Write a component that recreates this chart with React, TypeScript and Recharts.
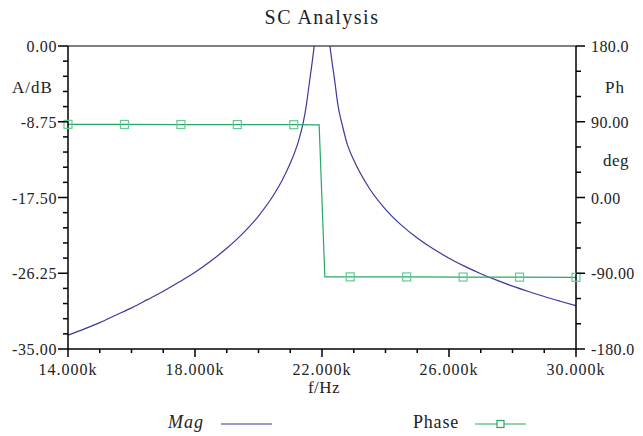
import React from 'react';
import { LineChart, Line, XAxis, YAxis, ReferenceLine, Legend } from 'recharts';

const SERIF = "'Liberation Serif', 'Times New Roman', serif";
const MAG_COLOR = '#3a3a9c';
const PHASE_COLOR = '#27a862';
const MARKER_COLOR = '#63c992';

// Mag curve (dB)
const magFreq = [
  14000, 14500, 15000, 15500, 16000, 16500, 17000, 17500, 18000, 18500, 19000, 19500,
  20000, 20500, 20750, 21000, 21250, 21400, 21500, 21600, 21700, 21800, 21900, 22000,
  22100, 22200, 22300, 22400, 22500, 22650, 22800, 23000, 23500, 24000, 24500, 25000,
  25500, 26000, 26500, 27000, 27500, 28000, 28500, 29000, 29500, 30000,
];
const magDb = [
  -33.4, -32.7, -31.95, -31.1, -30.25, -29.3, -28.33, -27.27, -26.14, -24.83, -23.37, -21.68,
  -19.64, -17.07, -15.47, -13.55, -11.1, -9.0, -7.0, -4.3, -1.6, 1.5, 6, 10,
  6, 1.6, -1.4, -4.0, -6.8, -9.3, -11.4, -13.17, -16.49, -18.86, -20.69, -22.18,
  -23.43, -24.51, -25.46, -26.3, -27.05, -27.74, -28.36, -28.94, -29.48, -30.0,
];

// Phase (deg), with square markers at ten evenly spaced points
const phaseFreq = [14000, 15778, 17556, 19333, 21111, 21910, 22090, 22889, 24667, 26444, 28222, 30000];
const phaseDeg = [86.9, 86.8, 86.7, 86.6, 86.5, 86.4, -94.2, -94.3, -94.4, -94.5, -94.6, -94.8];
const phaseMarker = [true, true, true, true, true, false, false, true, true, true, true, true];

// Axis ticks
const xTicks = [14000, 15000, 16000, 17000, 18000, 19000, 20000, 21000, 22000, 23000, 24000, 25000, 26000, 27000, 28000, 29000, 30000];
const xTickLabels = ['14.000k', '', '', '', '18.000k', '', '', '', '22.000k', '', '', '', '26.000k', '', '', '', '30.000k'];
const magTicks = [0, -1.75, -3.5, -5.25, -7, -8.75, -10.5, -12.25, -14, -15.75, -17.5, -19.25, -21, -22.75, -24.5, -26.25, -28, -29.75, -31.5, -33.25, -35];
const magTickLabels = ['0.00', '', '', '', '', '-8.75', '', '', '', '', '-17.50', '', '', '', '', '-26.25', '', '', '', '', '-35.00'];
const phTicks = [180, 150, 120, 90, 60, 30, 0, -30, -60, -90, -120, -150, -180];
const phTickLabels = ['180.0', '', '', '90.00', '', '', '0.00', '', '', '-90.00', '', '', '-180.0'];

const magData = magFreq.map((f, i) => ({ f, mag: magDb[i] }));
const phaseData = phaseFreq.map((f, i) => ({ f, phase: phaseDeg[i], m: phaseMarker[i] }));

const XTick = ({ x, y, payload }: any) => {
  const label = xTickLabels[xTicks.indexOf(payload.value)];
  return (
    <g>
      <line x1={x} y1={y} x2={x} y2={y + (label ? 8 : 4)} stroke="#000" strokeWidth={1.5} />
      {label && (
        <text x={x} y={y + 26} textAnchor="middle" fontSize={16} fontFamily={SERIF} fill="#222" letterSpacing={1}>
          {label}
        </text>
      )}
    </g>
  );
};

const MagTick = ({ x, y, payload }: any) => {
  const label = magTickLabels[magTicks.indexOf(payload.value)];
  return (
    <g>
      <line x1={x} y1={y} x2={x - (label ? 10 : 5)} y2={y} stroke="#000" strokeWidth={1.5} />
      {label && (
        <text x={x - 11} y={y + 6} textAnchor="end" fontSize={16} fontFamily={SERIF} fill="#222" letterSpacing={0.6}>
          {label}
        </text>
      )}
    </g>
  );
};

const PhTick = ({ x, y, payload }: any) => {
  const label = phTickLabels[phTicks.indexOf(payload.value)];
  return (
    <g>
      <line x1={x} y1={y} x2={x + (label ? 9 : 5)} y2={y} stroke="#000" strokeWidth={1.5} />
      {label && (
        <text x={x + 15} y={y + 6} textAnchor="start" fontSize={16} fontFamily={SERIF} fill="#222" letterSpacing={0.4}>
          {label}
        </text>
      )}
    </g>
  );
};

const SquareDot = (props: any) => {
  const { cx, cy, payload, index } = props;
  if (!payload.m) return <g key={`d-${index}`} />;
  return <rect key={`d-${index}`} x={cx - 4} y={cy - 4} width={8} height={8} fill="none" stroke={MARKER_COLOR} strokeWidth={1.2} />;
};

const LegendBox = () => (
  <svg width={643} height={36}>
    <text x={168} y={28} fontSize={18} fontStyle="italic" fontFamily={SERIF} fill="#222" letterSpacing={1}>Mag</text>
    <line x1={221} y1={24} x2={272} y2={24} stroke={MAG_COLOR} strokeWidth={1.2} />
    <text x={413} y={28} fontSize={18} fontFamily={SERIF} fill="#222" letterSpacing={0.8}>Phase</text>
    <line x1={475} y1={24} x2={526} y2={24} stroke={PHASE_COLOR} strokeWidth={1.2} />
    <rect x={497} y={20.5} width={7} height={7} fill="#fff" stroke={PHASE_COLOR} strokeWidth={1.2} />
  </svg>
);

export default function App() {
  return (
    <div style={{ position: 'absolute', left: 0, top: 0, width: 643, height: 436, background: '#fff' }}>
      <LineChart width={643} height={436} margin={{ top: 46, right: 0, bottom: 57, left: 0 }}>
        <XAxis
          xAxisId="f"
          dataKey="f"
          type="number"
          domain={[14000, 30000]}
          ticks={xTicks}
          interval={0}
          height={30}
          tickSize={0}
          tickMargin={0}
          tickLine={false}
          axisLine={{ stroke: '#000', strokeWidth: 1.5 }}
          tick={<XTick />}
          allowDuplicatedCategory={false}
        />
        <YAxis
          yAxisId="mag"
          type="number"
          domain={[-35, 0]}
          ticks={magTicks}
          interval={0}
          width={68}
          allowDataOverflow
          tickSize={0}
          tickMargin={0}
          tickLine={false}
          axisLine={{ stroke: '#000', strokeWidth: 1.5 }}
          tick={<MagTick />}
        />
        <YAxis
          yAxisId="ph"
          orientation="right"
          type="number"
          domain={[-180, 180]}
          ticks={phTicks}
          interval={0}
          width={67}
          tickSize={0}
          tickMargin={0}
          tickLine={false}
          axisLine={{ stroke: '#000', strokeWidth: 1.5 }}
          tick={<PhTick />}
        />
        <ReferenceLine xAxisId="f" yAxisId="mag" y={0} stroke="#555" strokeWidth={1.5} />
        <Line
          xAxisId="f"
          yAxisId="mag"
          data={magData}
          dataKey="mag"
          name="Mag"
          type="monotone"
          stroke={MAG_COLOR}
          strokeWidth={1.2}
          dot={false}
          isAnimationActive={false}
        />
        <Line
          xAxisId="f"
          yAxisId="ph"
          data={phaseData}
          dataKey="phase"
          name="Phase"
          type="linear"
          stroke={PHASE_COLOR}
          strokeWidth={1.2}
          dot={SquareDot}
          activeDot={false}
          isAnimationActive={false}
        />
        <Legend
          layout="horizontal"
          verticalAlign="middle"
          align="center"
          content={<LegendBox />}
          wrapperStyle={{ position: 'absolute', top: 400, left: 0, width: 643, height: 36 }}
        />
      </LineChart>
      <svg width={643} height={436} style={{ position: 'absolute', left: 0, top: 0, pointerEvents: 'none' }}>
        <text x={322} y={24} textAnchor="middle" fontSize={20} fontFamily={SERIF} fill="#222" letterSpacing={1.5}>SC Analysis</text>
        <text x={12} y={93} fontSize={17} fontFamily={SERIF} fill="#222" letterSpacing={1}>A/dB</text>
        <text x={605} y={93} fontSize={17} fontFamily={SERIF} fill="#222" letterSpacing={1}>Ph</text>
        <text x={603} y={166} fontSize={17} fontFamily={SERIF} fill="#222" letterSpacing={0.5}>deg</text>
        <text x={324} y={393} textAnchor="middle" fontSize={17} fontFamily={SERIF} fill="#222" letterSpacing={0.5}>f/Hz</text>
      </svg>
    </div>
  );
}
